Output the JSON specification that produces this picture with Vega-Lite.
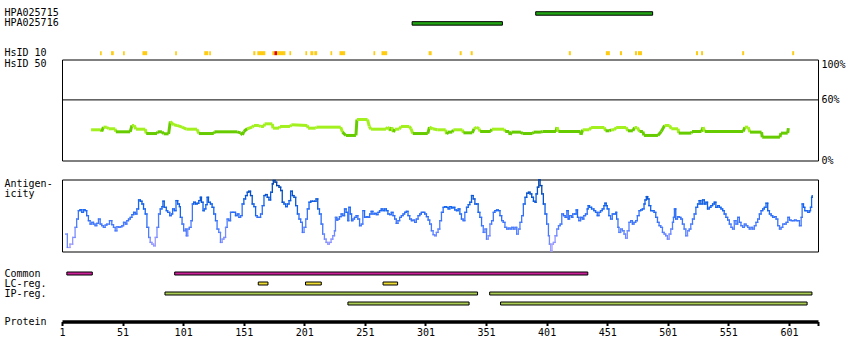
{
"$schema": "https://vega.github.io/schema/vega-lite/v6.json",
"padding": {"left": 3, "top": 7.5, "right": 2, "bottom": 2},
"background": "white",
"spacing": 0,
"bounds": "flush",
"config": {
  "view": {"stroke": null},
  "font": "DejaVu Sans Mono",
  "axis": {"labelFont": "DejaVu Sans Mono", "labelFontSize": 10, "labelColor": "#000", "titleFont": "DejaVu Sans Mono", "titleFontSize": 10, "titleFontWeight": "normal", "titleColor": "#000", "grid": false}
},
"vconcat": [
{
  "width": 756, "height": 51,
  "layer": [
    {
      "data": {"values": [
        {"track": "HPA025715", "start": 392, "end": 488.5},
        {"track": "HPA025716", "start": 290, "end": 364.5}
      ]},
      "mark": {"type": "bar", "height": 3.5, "fill": "#22a514", "stroke": "#000", "strokeWidth": 1},
      "encoding": {
        "y": {"field": "track", "type": "nominal", "scale": {"domain": ["HPA025715", "HPA025716", "gap1", "gap2", "HsID 10"], "paddingInner": 0, "paddingOuter": 0.068, "align": 0},
              "axis": {"title": null, "ticks": false, "tickSize": 0, "domain": false, "labelAlign": "left", "labelPadding": 58, "labelBaseline": "middle", "labelExpr": "indexof(datum.value, 'gap') == 0 ? '' : datum.value"}},
        "x": {"field": "start", "type": "quantitative", "scale": {"domain": [1, 625], "nice": false, "zero": false}, "axis": null},
        "x2": {"field": "end"}
      }
    },
    {
      "data": {"values": [
        {"track": "HsID 10", "start": 32.4, "end": 33.8, "identity": "partial"},
        {"track": "HsID 10", "start": 41.5, "end": 43.7, "identity": "partial"},
        {"track": "HsID 10", "start": 51.4, "end": 52.8, "identity": "partial"},
        {"track": "HsID 10", "start": 67.4, "end": 71.3, "identity": "partial"},
        {"track": "HsID 10", "start": 94.4, "end": 95.8, "identity": "partial"},
        {"track": "HsID 10", "start": 118.4, "end": 121.7, "identity": "partial"},
        {"track": "HsID 10", "start": 122.5, "end": 123.9, "identity": "partial"},
        {"track": "HsID 10", "start": 158.9, "end": 160.6, "identity": "partial"},
        {"track": "HsID 10", "start": 162.2, "end": 168.8, "identity": "partial"},
        {"track": "HsID 10", "start": 174.6, "end": 176.3, "identity": "partial"},
        {"track": "HsID 10", "start": 176.3, "end": 178.5, "identity": "full"},
        {"track": "HsID 10", "start": 178.5, "end": 185.4, "identity": "partial"},
        {"track": "HsID 10", "start": 188.7, "end": 190.1, "identity": "partial"},
        {"track": "HsID 10", "start": 201.9, "end": 203.3, "identity": "partial"},
        {"track": "HsID 10", "start": 206.0, "end": 208.5, "identity": "partial"},
        {"track": "HsID 10", "start": 209.3, "end": 211.6, "identity": "partial"},
        {"track": "HsID 10", "start": 222.6, "end": 224.0, "identity": "partial"},
        {"track": "HsID 10", "start": 230.0, "end": 234.7, "identity": "partial"},
        {"track": "HsID 10", "start": 258.1, "end": 259.5, "identity": "partial"},
        {"track": "HsID 10", "start": 264.7, "end": 269.4, "identity": "partial"},
        {"track": "HsID 10", "start": 303.6, "end": 306.1, "identity": "partial"},
        {"track": "HsID 10", "start": 329.2, "end": 330.9, "identity": "partial"},
        {"track": "HsID 10", "start": 338.3, "end": 340.0, "identity": "partial"},
        {"track": "HsID 10", "start": 419.3, "end": 421.0, "identity": "partial"},
        {"track": "HsID 10", "start": 449.9, "end": 453.2, "identity": "partial"},
        {"track": "HsID 10", "start": 461.5, "end": 463.2, "identity": "partial"},
        {"track": "HsID 10", "start": 473.9, "end": 475.6, "identity": "partial"},
        {"track": "HsID 10", "start": 476.4, "end": 479.7, "identity": "partial"},
        {"track": "HsID 10", "start": 524.3, "end": 526.0, "identity": "partial"},
        {"track": "HsID 10", "start": 528.5, "end": 530.1, "identity": "partial"},
        {"track": "HsID 10", "start": 562.4, "end": 564.0, "identity": "partial"},
        {"track": "HsID 10", "start": 603.7, "end": 605.3, "identity": "partial"}
      ]},
      "mark": {"type": "bar", "height": 4},
      "encoding": {
        "y": {"field": "track", "type": "nominal"},
        "x": {"field": "start", "type": "quantitative", "scale": {"domain": [1, 625], "nice": false, "zero": false}, "axis": null},
        "x2": {"field": "end"},
        "color": {"field": "identity", "type": "nominal", "scale": {"domain": ["partial", "full"], "range": ["#ffcc11", "#dd0000"]}, "legend": null}
      }
    }
  ]
},
{
  "width": 756, "height": 101,
  "view": {"stroke": "#000", "strokeWidth": 1},
  "layer": [
    {
      "data": {"values": [
        {"pos":25.0,"identity":30.4},{"pos":33.0,"identity":30.4},{"pos":33.8,"identity":28.7},{"pos":35.2,"identity":33.0},{"pos":38.0,"identity":33.0},{"pos":39.4,"identity":31.4},{"pos":44.9,"identity":31.4},{"pos":45.4,"identity":28.4},{"pos":57.3,"identity":28.4},{"pos":58.7,"identity":34.7},{"pos":60.6,"identity":34.7},{"pos":62.0,"identity":31.0},{"pos":69.7,"identity":31.0},{"pos":70.5,"identity":26.7},{"pos":79.4,"identity":26.7},{"pos":79.9,"identity":28.4},{"pos":83.5,"identity":28.4},{"pos":84.9,"identity":26.4},{"pos":89.0,"identity":26.4},{"pos":90.4,"identity":38.6},{"pos":93.2,"identity":35.3},{"pos":96.0,"identity":34.7},{"pos":100.1,"identity":33.0},{"pos":103.6,"identity":31.0},{"pos":112.5,"identity":31.0},{"pos":113.9,"identity":26.7},{"pos":126.3,"identity":26.7},{"pos":126.8,"identity":28.4},{"pos":145.6,"identity":28.4},{"pos":148.4,"identity":27.4},{"pos":150.0,"identity":25.4},{"pos":151.1,"identity":28.7},{"pos":153.9,"identity":31.4},{"pos":158.0,"identity":33.0},{"pos":159.4,"identity":34.7},{"pos":163.5,"identity":34.7},{"pos":164.9,"identity":33.7},{"pos":167.7,"identity":33.7},{"pos":168.2,"identity":36.3},{"pos":174.6,"identity":36.3},{"pos":175.1,"identity":32.0},{"pos":180.1,"identity":32.0},{"pos":180.9,"identity":33.7},{"pos":189.2,"identity":33.7},{"pos":190.3,"identity":35.3},{"pos":203.5,"identity":34.7},{"pos":204.1,"identity":32.0},{"pos":210.4,"identity":32.0},{"pos":211.0,"identity":33.0},{"pos":231.1,"identity":33.0},{"pos":232.5,"identity":28.1},{"pos":235.3,"identity":24.8},{"pos":243.6,"identity":24.8},{"pos":244.4,"identity":40.6},{"pos":253.2,"identity":40.6},{"pos":254.6,"identity":33.7},{"pos":256.0,"identity":31.0},{"pos":268.4,"identity":31.0},{"pos":269.8,"identity":33.0},{"pos":271.1,"identity":31.4},{"pos":272.0,"identity":29.4},{"pos":273.1,"identity":33.0},{"pos":274.5,"identity":28.1},{"pos":275.8,"identity":31.0},{"pos":279.4,"identity":31.0},{"pos":280.8,"identity":33.7},{"pos":287.7,"identity":33.7},{"pos":289.1,"identity":31.4},{"pos":290.5,"identity":26.7},{"pos":302.9,"identity":26.7},{"pos":304.3,"identity":33.0},{"pos":307.0,"identity":31.4},{"pos":310.8,"identity":30.4},{"pos":317.7,"identity":30.4},{"pos":318.5,"identity":26.1},{"pos":319.6,"identity":28.1},{"pos":323.2,"identity":28.1},{"pos":324.0,"identity":30.4},{"pos":331.5,"identity":30.4},{"pos":332.3,"identity":27.4},{"pos":339.7,"identity":27.4},{"pos":341.1,"identity":31.4},{"pos":343.3,"identity":33.0},{"pos":345.3,"identity":31.4},{"pos":346.1,"identity":28.7},{"pos":354.9,"identity":28.7},{"pos":355.7,"identity":31.0},{"pos":366.0,"identity":31.0},{"pos":366.8,"identity":28.7},{"pos":370.1,"identity":28.7},{"pos":370.9,"identity":25.4},{"pos":372.0,"identity":28.1},{"pos":379.8,"identity":28.1},{"pos":381.1,"identity":26.7},{"pos":389.4,"identity":26.7},{"pos":390.2,"identity":28.1},{"pos":396.3,"identity":28.1},{"pos":397.7,"identity":28.7},{"pos":408.7,"identity":28.7},{"pos":409.6,"identity":33.0},{"pos":410.7,"identity":28.7},{"pos":428.9,"identity":28.7},{"pos":429.4,"identity":25.4},{"pos":430.8,"identity":30.4},{"pos":436.3,"identity":30.4},{"pos":437.7,"identity":32.7},{"pos":448.7,"identity":32.7},{"pos":449.6,"identity":29.4},{"pos":452.9,"identity":29.4},{"pos":454.3,"identity":30.4},{"pos":457.0,"identity":30.4},{"pos":458.4,"identity":32.7},{"pos":466.7,"identity":32.7},{"pos":468.0,"identity":29.4},{"pos":472.2,"identity":29.4},{"pos":473.6,"identity":32.7},{"pos":475.8,"identity":32.7},{"pos":477.7,"identity":28.7},{"pos":480.5,"identity":28.7},{"pos":481.3,"identity":24.8},{"pos":492.9,"identity":24.8},{"pos":495.6,"identity":28.7},{"pos":498.4,"identity":34.7},{"pos":502.5,"identity":34.7},{"pos":503.9,"identity":31.4},{"pos":509.5,"identity":31.4},{"pos":510.0,"identity":27.1},{"pos":520.5,"identity":27.1},{"pos":521.0,"identity":28.7},{"pos":528.8,"identity":28.7},{"pos":530.1,"identity":33.0},{"pos":531.5,"identity":28.7},{"pos":563.3,"identity":28.7},{"pos":564.6,"identity":33.0},{"pos":567.4,"identity":33.0},{"pos":568.8,"identity":28.1},{"pos":578.4,"identity":28.1},{"pos":579.0,"identity":23.1},{"pos":593.6,"identity":23.1},{"pos":594.4,"identity":27.1},{"pos":600.0,"identity":27.1},{"pos":600.5,"identity":32.0}
      ]},
      "transform": [
        {"window": [{"op": "lead", "field": "pos", "as": "pos2"}, {"op": "lead", "field": "identity", "as": "identity2"}], "sort": [{"field": "pos"}]},
        {"filter": "datum.pos2 != null"}
      ],
      "mark": {"type": "rule", "strokeWidth": 3, "strokeCap": "butt"},
      "encoding": {
        "x": {"field": "pos", "type": "quantitative", "scale": {"domain": [1, 625], "nice": false, "zero": false}, "axis": null},
        "x2": {"field": "pos2"},
        "y": {"field": "identity", "type": "quantitative", "scale": {"domain": [0, 100], "nice": false},
              "axis": {"title": "HsID 50", "labels": false, "ticks": false, "domain": false, "titleAngle": 0, "titleAlign": "left", "titleBaseline": "middle", "titleX": -58, "titleY": 4}},
        "y2": {"field": "identity2"},
        "color": {"condition": {"test": "datum.identity >= 30", "value": "#a2f01e"}, "value": "#66cc00"}
      }
    },
    {
      "data": {"values": [{"level": 60}]},
      "mark": {"type": "rule", "color": "#000", "strokeWidth": 1},
      "encoding": {
        "y": {"field": "level", "type": "quantitative", "scale": {"domain": [0, 100], "nice": false},
              "axis": {"orient": "right", "title": null, "values": [0, 60, 100], "ticks": false, "tickSize": 0, "domain": false, "labelPadding": 3, "labelAlign": "left", "labelExpr": "datum.value + '%'",
                       "labelBaseline": {"condition": {"test": "datum.value == 100", "value": "top"}, "value": "middle"}}}
      }
    }
  ],
  "resolve": {"scale": {"y": "independent"}}
},
{
  "width": 756, "height": 19,
  "data": {"values": []},
  "mark": "point"
},
{
  "width": 756, "height": 72,
  "view": {"stroke": "#000", "strokeWidth": 1},
  "data": {"values": [
    {"pos":4.0,"score":0.242},{"pos":5.4,"score":0.056},{"pos":7.6,"score":0.102},{"pos":9.8,"score":0.195},{"pos":11.8,"score":0.335},{"pos":13.1,"score":0.451},{"pos":14.5,"score":0.567},{"pos":15.9,"score":0.581},{"pos":17.3,"score":0.544},{"pos":18.7,"score":0.581},{"pos":20.0,"score":0.567},{"pos":21.4,"score":0.498},{"pos":22.8,"score":0.428},{"pos":24.2,"score":0.381},{"pos":25.6,"score":0.405},{"pos":27.0,"score":0.381},{"pos":28.3,"score":0.358},{"pos":29.7,"score":0.391},{"pos":31.1,"score":0.451},{"pos":32.5,"score":0.381},{"pos":33.8,"score":0.358},{"pos":35.2,"score":0.335},{"pos":36.6,"score":0.367},{"pos":38.0,"score":0.381},{"pos":40.2,"score":0.428},{"pos":42.1,"score":0.372},{"pos":43.5,"score":0.335},{"pos":44.9,"score":0.288},{"pos":46.3,"score":0.344},{"pos":47.6,"score":0.335},{"pos":49.0,"score":0.344},{"pos":50.4,"score":0.358},{"pos":51.8,"score":0.405},{"pos":53.2,"score":0.381},{"pos":54.5,"score":0.428},{"pos":55.9,"score":0.451},{"pos":57.3,"score":0.474},{"pos":58.7,"score":0.512},{"pos":60.1,"score":0.544},{"pos":61.4,"score":0.521},{"pos":62.8,"score":0.591},{"pos":64.2,"score":0.716},{"pos":65.6,"score":0.698},{"pos":67.0,"score":0.660},{"pos":68.3,"score":0.591},{"pos":69.7,"score":0.521},{"pos":71.1,"score":0.335},{"pos":72.5,"score":0.195},{"pos":73.8,"score":0.126},{"pos":75.2,"score":0.102},{"pos":76.6,"score":0.079},{"pos":78.0,"score":0.195},{"pos":79.4,"score":0.335},{"pos":80.7,"score":0.521},{"pos":82.1,"score":0.591},{"pos":83.5,"score":0.623},{"pos":84.3,"score":0.698},{"pos":85.4,"score":0.614},{"pos":87.1,"score":0.567},{"pos":88.2,"score":0.544},{"pos":89.9,"score":0.498},{"pos":91.2,"score":0.521},{"pos":92.3,"score":0.591},{"pos":93.7,"score":0.567},{"pos":95.1,"score":0.707},{"pos":96.5,"score":0.660},{"pos":97.9,"score":0.623},{"pos":98.7,"score":0.474},{"pos":100.1,"score":0.381},{"pos":101.4,"score":0.288},{"pos":102.8,"score":0.312},{"pos":103.6,"score":0.219},{"pos":104.8,"score":0.312},{"pos":106.1,"score":0.335},{"pos":107.5,"score":0.428},{"pos":108.6,"score":0.660},{"pos":109.7,"score":0.684},{"pos":111.1,"score":0.660},{"pos":112.5,"score":0.670},{"pos":113.9,"score":0.707},{"pos":115.2,"score":0.753},{"pos":116.1,"score":0.684},{"pos":117.4,"score":0.567},{"pos":118.5,"score":0.591},{"pos":119.7,"score":0.651},{"pos":120.8,"score":0.753},{"pos":121.9,"score":0.684},{"pos":123.5,"score":0.660},{"pos":124.9,"score":0.614},{"pos":126.3,"score":0.521},{"pos":127.7,"score":0.428},{"pos":129.0,"score":0.312},{"pos":130.4,"score":0.265},{"pos":131.8,"score":0.126},{"pos":133.2,"score":0.172},{"pos":134.6,"score":0.195},{"pos":136.0,"score":0.335},{"pos":137.3,"score":0.451},{"pos":138.7,"score":0.428},{"pos":140.1,"score":0.544},{"pos":141.5,"score":0.544},{"pos":142.8,"score":0.544},{"pos":144.2,"score":0.498},{"pos":145.6,"score":0.521},{"pos":147.0,"score":0.474},{"pos":148.4,"score":0.498},{"pos":149.7,"score":0.660},{"pos":151.1,"score":0.730},{"pos":152.5,"score":0.777},{"pos":153.9,"score":0.823},{"pos":155.2,"score":0.837},{"pos":156.6,"score":0.777},{"pos":158.0,"score":0.660},{"pos":159.4,"score":0.623},{"pos":160.8,"score":0.498},{"pos":162.1,"score":0.474},{"pos":163.5,"score":0.474},{"pos":164.9,"score":0.521},{"pos":166.3,"score":0.637},{"pos":167.7,"score":0.777},{"pos":169.0,"score":0.791},{"pos":170.4,"score":0.753},{"pos":171.8,"score":0.716},{"pos":173.2,"score":0.823},{"pos":174.6,"score":0.940},{"pos":175.4,"score":0.986},{"pos":176.8,"score":0.963},{"pos":178.2,"score":0.916},{"pos":180.1,"score":0.893},{"pos":181.5,"score":0.847},{"pos":182.8,"score":0.684},{"pos":184.2,"score":0.660},{"pos":185.6,"score":0.623},{"pos":187.0,"score":0.660},{"pos":188.4,"score":0.707},{"pos":189.7,"score":0.837},{"pos":191.1,"score":0.777},{"pos":192.5,"score":0.753},{"pos":193.9,"score":0.637},{"pos":195.3,"score":0.521},{"pos":196.6,"score":0.451},{"pos":198.0,"score":0.405},{"pos":199.4,"score":0.265},{"pos":200.8,"score":0.335},{"pos":202.2,"score":0.451},{"pos":203.5,"score":0.591},{"pos":204.9,"score":0.684},{"pos":206.3,"score":0.698},{"pos":207.7,"score":0.698},
    {"pos":209.3,"score":0.698},{"pos":210.7,"score":0.730},{"pos":212.1,"score":0.591},{"pos":213.5,"score":0.521},{"pos":214.9,"score":0.381},{"pos":216.2,"score":0.242},{"pos":217.6,"score":0.172},{"pos":219.0,"score":0.126},{"pos":220.4,"score":0.102},{"pos":221.7,"score":0.126},{"pos":223.1,"score":0.172},{"pos":224.5,"score":0.219},{"pos":225.9,"score":0.288},{"pos":226.7,"score":0.474},{"pos":227.8,"score":0.437},{"pos":228.6,"score":0.451},{"pos":230.0,"score":0.484},{"pos":231.4,"score":0.521},{"pos":232.8,"score":0.498},{"pos":234.2,"score":0.591},{"pos":235.5,"score":0.544},{"pos":236.9,"score":0.428},{"pos":237.7,"score":0.614},{"pos":238.9,"score":0.521},{"pos":240.0,"score":0.428},{"pos":241.1,"score":0.451},{"pos":242.4,"score":0.474},{"pos":243.8,"score":0.498},{"pos":245.2,"score":0.451},{"pos":246.6,"score":0.358},{"pos":248.0,"score":0.381},{"pos":249.3,"score":0.567},{"pos":250.7,"score":0.474},{"pos":252.1,"score":0.484},{"pos":253.5,"score":0.474},{"pos":254.9,"score":0.521},{"pos":256.2,"score":0.558},{"pos":257.6,"score":0.521},{"pos":259.0,"score":0.530},{"pos":260.4,"score":0.512},{"pos":261.8,"score":0.544},{"pos":263.1,"score":0.567},{"pos":264.5,"score":0.591},{"pos":265.9,"score":0.567},{"pos":267.3,"score":0.591},{"pos":268.7,"score":0.567},{"pos":270.0,"score":0.521},{"pos":271.4,"score":0.512},{"pos":272.8,"score":0.544},{"pos":274.2,"score":0.498},{"pos":275.6,"score":0.451},{"pos":276.9,"score":0.391},{"pos":278.3,"score":0.428},{"pos":279.7,"score":0.474},{"pos":281.1,"score":0.498},{"pos":282.5,"score":0.521},{"pos":283.8,"score":0.544},{"pos":285.2,"score":0.558},{"pos":286.6,"score":0.498},{"pos":288.0,"score":0.451},{"pos":289.4,"score":0.428},{"pos":290.7,"score":0.437},{"pos":292.1,"score":0.405},{"pos":293.5,"score":0.451},{"pos":294.9,"score":0.498},{"pos":296.3,"score":0.521},{"pos":297.6,"score":0.544},{"pos":299.0,"score":0.544},{"pos":300.4,"score":0.521},{"pos":301.8,"score":0.484},{"pos":303.2,"score":0.437},{"pos":304.5,"score":0.381},{"pos":305.9,"score":0.288},{"pos":307.3,"score":0.233},{"pos":308.7,"score":0.219},{"pos":310.0,"score":0.265},{"pos":311.4,"score":0.312},{"pos":312.8,"score":0.428},{"pos":314.2,"score":0.544},{"pos":315.6,"score":0.614},{"pos":316.9,"score":0.623},{"pos":318.3,"score":0.614},{"pos":319.7,"score":0.591},{"pos":321.1,"score":0.623},{"pos":322.5,"score":0.605},{"pos":323.8,"score":0.614},{"pos":325.2,"score":0.577},{"pos":326.6,"score":0.567},{"pos":328.0,"score":0.591},{"pos":329.4,"score":0.521},{"pos":330.7,"score":0.451},{"pos":332.1,"score":0.428},{"pos":333.5,"score":0.544},{"pos":334.9,"score":0.614},{"pos":336.3,"score":0.651},{"pos":337.6,"score":0.684},{"pos":339.0,"score":0.777},{"pos":340.4,"score":0.730},{"pos":341.8,"score":0.660},{"pos":343.2,"score":0.660},{"pos":344.5,"score":0.544},{"pos":345.9,"score":0.474},{"pos":347.3,"score":0.358},{"pos":348.7,"score":0.265},{"pos":350.1,"score":0.312},{"pos":351.4,"score":0.172},{"pos":352.8,"score":0.219},{"pos":354.2,"score":0.381},{"pos":355.6,"score":0.428},{"pos":357.0,"score":0.544},{"pos":358.3,"score":0.567},{"pos":359.7,"score":0.577},{"pos":361.1,"score":0.567},{"pos":362.5,"score":0.498},{"pos":363.9,"score":0.428},{"pos":365.2,"score":0.405},{"pos":366.6,"score":0.335},{"pos":368.0,"score":0.312},{"pos":369.4,"score":0.326},{"pos":370.8,"score":0.312},{"pos":372.1,"score":0.335},{"pos":373.5,"score":0.312},{"pos":374.9,"score":0.335},{"pos":376.3,"score":0.242},{"pos":377.7,"score":0.312},{"pos":379.0,"score":0.405},{"pos":380.4,"score":0.498},{"pos":381.8,"score":0.660},{"pos":383.2,"score":0.753},{"pos":384.6,"score":0.809},{"pos":386.0,"score":0.823},{"pos":387.3,"score":0.800},{"pos":388.7,"score":0.753},{"pos":390.1,"score":0.698},{"pos":391.5,"score":0.684},{"pos":392.3,"score":0.800},{"pos":393.4,"score":0.893},{"pos":394.5,"score":0.995},{"pos":395.6,"score":0.916},{"pos":397.0,"score":0.800},{"pos":398.3,"score":0.660},{"pos":399.7,"score":0.521},{"pos":401.1,"score":0.381},{"pos":402.5,"score":0.219},{"pos":403.3,"score":0.102},{"pos":404.4,"score":0.009},{"pos":405.5,"score":0.102},{"pos":406.6,"score":0.126},{"pos":408.0,"score":0.219},{"pos":409.4,"score":0.312},{"pos":410.8,"score":0.358},{"pos":412.2,"score":0.381},{"pos":413.5,"score":0.521},{"pos":414.9,"score":0.498},{"pos":416.3,"score":0.474},{"pos":417.7,"score":0.567},
    {"pos":418.8,"score":0.451},{"pos":419.9,"score":0.498},{"pos":421.5,"score":0.474},{"pos":422.6,"score":0.521},{"pos":424.3,"score":0.521},{"pos":425.4,"score":0.577},{"pos":426.5,"score":0.474},{"pos":427.6,"score":0.428},{"pos":429.0,"score":0.474},{"pos":430.4,"score":0.451},{"pos":431.7,"score":0.498},{"pos":433.1,"score":0.521},{"pos":434.5,"score":0.591},{"pos":435.3,"score":0.637},{"pos":436.4,"score":0.614},{"pos":438.1,"score":0.591},{"pos":440.0,"score":0.567},{"pos":441.4,"score":0.544},{"pos":442.8,"score":0.498},{"pos":444.2,"score":0.544},{"pos":445.5,"score":0.567},{"pos":446.9,"score":0.591},{"pos":448.3,"score":0.637},{"pos":449.1,"score":0.670},{"pos":450.2,"score":0.637},{"pos":451.0,"score":0.591},{"pos":452.4,"score":0.498},{"pos":453.8,"score":0.451},{"pos":455.2,"score":0.521},{"pos":456.6,"score":0.521},{"pos":458.0,"score":0.544},{"pos":458.8,"score":0.451},{"pos":459.9,"score":0.335},{"pos":460.7,"score":0.265},{"pos":462.1,"score":0.312},{"pos":463.5,"score":0.288},{"pos":464.9,"score":0.242},{"pos":466.2,"score":0.186},{"pos":467.6,"score":0.288},{"pos":469.0,"score":0.405},{"pos":470.4,"score":0.428},{"pos":471.8,"score":0.381},{"pos":473.1,"score":0.405},{"pos":474.5,"score":0.428},{"pos":475.9,"score":0.498},{"pos":477.3,"score":0.567},{"pos":478.6,"score":0.577},{"pos":480.0,"score":0.591},{"pos":481.4,"score":0.660},{"pos":482.2,"score":0.716},{"pos":483.3,"score":0.763},{"pos":484.4,"score":0.730},{"pos":485.5,"score":0.637},{"pos":486.9,"score":0.567},{"pos":488.3,"score":0.567},{"pos":489.7,"score":0.544},{"pos":491.1,"score":0.474},{"pos":492.5,"score":0.405},{"pos":493.8,"score":0.358},{"pos":495.2,"score":0.335},{"pos":496.6,"score":0.265},{"pos":498.0,"score":0.242},{"pos":499.3,"score":0.219},{"pos":500.7,"score":0.172},{"pos":502.1,"score":0.242},{"pos":503.5,"score":0.312},{"pos":504.9,"score":0.405},{"pos":505.7,"score":0.474},{"pos":506.5,"score":0.591},{"pos":507.6,"score":0.451},{"pos":509.0,"score":0.484},{"pos":510.4,"score":0.474},{"pos":511.8,"score":0.451},{"pos":513.1,"score":0.381},{"pos":514.5,"score":0.312},{"pos":515.9,"score":0.219},{"pos":517.3,"score":0.288},{"pos":518.7,"score":0.312},{"pos":520.0,"score":0.381},{"pos":521.4,"score":0.451},{"pos":522.8,"score":0.521},{"pos":524.2,"score":0.614},{"pos":525.6,"score":0.660},{"pos":526.9,"score":0.707},{"pos":528.3,"score":0.660},{"pos":529.7,"score":0.716},{"pos":531.1,"score":0.660},{"pos":532.5,"score":0.684},{"pos":533.8,"score":0.591},{"pos":535.2,"score":0.614},{"pos":536.6,"score":0.637},{"pos":538.0,"score":0.660},{"pos":539.4,"score":0.684},{"pos":540.7,"score":0.614},{"pos":542.1,"score":0.637},{"pos":543.5,"score":0.614},{"pos":544.9,"score":0.591},{"pos":546.3,"score":0.567},{"pos":547.6,"score":0.521},{"pos":549.0,"score":0.474},{"pos":550.4,"score":0.437},{"pos":551.8,"score":0.381},{"pos":553.2,"score":0.335},{"pos":554.5,"score":0.312},{"pos":555.9,"score":0.428},{"pos":557.3,"score":0.381},{"pos":558.7,"score":0.474},{"pos":560.1,"score":0.405},{"pos":561.4,"score":0.358},{"pos":562.8,"score":0.335},{"pos":564.2,"score":0.381},{"pos":565.6,"score":0.358},{"pos":567.0,"score":0.335},{"pos":568.3,"score":0.312},{"pos":569.7,"score":0.335},{"pos":571.1,"score":0.312},{"pos":572.5,"score":0.358},{"pos":573.8,"score":0.405},{"pos":575.2,"score":0.451},{"pos":576.6,"score":0.521},{"pos":578.0,"score":0.567},{"pos":579.4,"score":0.591},{"pos":580.7,"score":0.614},{"pos":582.1,"score":0.670},{"pos":583.5,"score":0.567},{"pos":584.9,"score":0.521},{"pos":586.3,"score":0.498},{"pos":587.6,"score":0.474},{"pos":589.0,"score":0.484},{"pos":590.4,"score":0.451},{"pos":591.8,"score":0.358},{"pos":593.2,"score":0.312},{"pos":594.5,"score":0.335},{"pos":595.9,"score":0.381},{"pos":597.3,"score":0.381},{"pos":598.7,"score":0.405},{"pos":600.1,"score":0.474},{"pos":601.4,"score":0.437},{"pos":602.8,"score":0.428},{"pos":604.2,"score":0.428},{"pos":605.6,"score":0.437},{"pos":607.0,"score":0.428},{"pos":608.3,"score":0.428},{"pos":609.7,"score":0.358},{"pos":611.1,"score":0.474},{"pos":611.9,"score":0.660},{"pos":613.0,"score":0.614},{"pos":614.1,"score":0.567},{"pos":615.2,"score":0.567},{"pos":616.6,"score":0.544},{"pos":618.0,"score":0.567},{"pos":618.8,"score":0.614},{"pos":619.7,"score":0.753},{"pos":620.2,"score":0.777}
  ]},
  "transform": [
    {"window": [{"op": "lead", "field": "pos", "as": "pos2"}, {"op": "lead", "field": "score", "as": "score2"}], "sort": [{"field": "pos"}]},
    {"filter": "datum.pos2 != null"}
  ],
  "layer": [
    {
      "mark": {"type": "rule", "strokeWidth": 1.3, "strokeCap": "square"},
      "encoding": {
        "x": {"field": "pos", "type": "quantitative", "scale": {"domain": [1, 625], "nice": false, "zero": false}, "axis": null},
        "x2": {"field": "pos2"},
        "y": {"field": "score", "type": "quantitative", "scale": {"domain": [0, 1], "nice": false},
              "axis": {"title": ["Antigen-", "icity"], "labels": false, "ticks": false, "domain": false, "titleAngle": 0, "titleAlign": "left", "titleBaseline": "alphabetic", "titleLineHeight": 10, "titleX": -58, "titleY": 7}},
        "color": {"field": "score", "type": "quantitative", "scale": {"domain": [0, 0.3, 0.6, 1], "range": ["#ada6ff", "#5080ff", "#1466f5", "#003f9e"]}, "legend": null}
      }
    },
    {
      "mark": {"type": "rule", "strokeWidth": 1.3, "strokeCap": "square"},
      "encoding": {
        "x": {"field": "pos2", "type": "quantitative"},
        "y": {"field": "score", "type": "quantitative"},
        "y2": {"field": "score2"},
        "color": {"field": "score", "type": "quantitative", "legend": null}
      }
    }
  ]
},
{
  "width": 756, "height": 17,
  "data": {"values": []},
  "mark": "point"
},
{
  "width": 756, "height": 40,
  "data": {"values": [
    {"track": "Common", "lane": "Common", "start": 5, "end": 26},
    {"track": "Common", "lane": "Common", "start": 94, "end": 435},
    {"track": "LC-reg.", "lane": "LC-reg.", "start": 163, "end": 171},
    {"track": "LC-reg.", "lane": "LC-reg.", "start": 202, "end": 215},
    {"track": "LC-reg.", "lane": "LC-reg.", "start": 266, "end": 278},
    {"track": "IP-reg.", "lane": "IP-reg.", "start": 86, "end": 344},
    {"track": "IP-reg.", "lane": "IP-reg.", "start": 354, "end": 620},
    {"track": "IP-reg.", "lane": "IP-reg. (2)", "start": 237, "end": 337},
    {"track": "IP-reg.", "lane": "IP-reg. (2)", "start": 363, "end": 616}
  ]},
  "mark": {"type": "bar", "height": 3, "stroke": "#000", "strokeWidth": 1},
  "encoding": {
    "y": {"field": "lane", "type": "nominal", "scale": {"domain": ["Common", "LC-reg.", "IP-reg.", "IP-reg. (2)"], "paddingInner": 0, "paddingOuter": 0},
          "axis": {"title": null, "ticks": false, "tickSize": 0, "domain": false, "labelAlign": "left", "labelPadding": 58, "labelBaseline": "middle", "labelExpr": "datum.value == 'IP-reg. (2)' ? '' : datum.value"}},
    "x": {"field": "start", "type": "quantitative", "scale": {"domain": [1, 625], "nice": false, "zero": false},
          "axis": {"orient": "bottom", "offset": 13, "values": [1, 51, 101, 151, 201, 251, 301, 351, 401, 451, 501, 551, 601, 625], "format": "d",
                   "labelExpr": "datum.value == 625 ? '' : datum.label", "labelFlush": false, "labelOverlap": false, "labelPadding": 2,
                   "domainColor": "#000", "domainWidth": 3.5, "tickColor": "#000", "tickWidth": 2, "tickSize": 4,
                   "title": "Protein", "titleAngle": 0, "titleAlign": "left", "titleBaseline": "middle", "titleX": -58, "titleY": 0}},
    "x2": {"field": "end"},
    "color": {"field": "track", "type": "nominal", "scale": {"domain": ["Common", "LC-reg.", "IP-reg."], "range": ["#cc2299", "#eedd33", "#aacc55"]}, "legend": null}
  }
}
]
}
